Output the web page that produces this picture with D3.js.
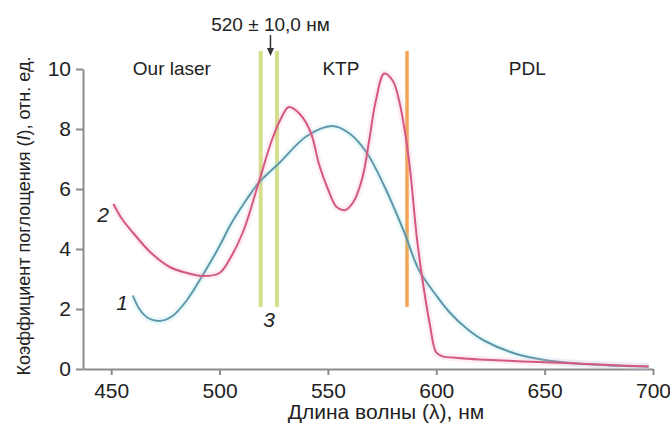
<!DOCTYPE html>
<html>
<head>
<meta charset="utf-8">
<script src="https://cdn.jsdelivr.net/npm/d3@7"></script>
<style>
  body { margin: 0; background: #fff; }
  svg text { font-family: "Liberation Sans", Arial, sans-serif; fill: #222; }
</style>
</head>
<body>
<div id="chart"></div>
<script>
// Curve 1 (blue) : wavelength, nm / absorption
const wave1 = [460, 463, 467, 472, 478, 485, 492, 500, 505, 512, 518, 528, 540, 552, 560, 568, 576, 585, 592, 600, 606, 614, 622, 637, 650, 665, 680, 698]
const abs1  = [2.45, 2.0, 1.7, 1.6, 1.75, 2.3, 3.1, 4.1, 4.8, 5.6, 6.2, 6.9, 7.75, 8.1, 7.85, 7.2, 6.1, 4.6, 3.3, 2.45, 1.9, 1.35, 0.95, 0.5, 0.3, 0.18, 0.12, 0.08]

// Curve 2 (pink)
const wave2 = [451, 455, 460, 468, 477, 485, 492, 500, 505, 511, 518, 524, 528, 532, 537, 542, 546, 550, 554, 558, 562, 566, 569, 572, 576, 580, 583, 586, 588, 591, 594, 597, 600, 603, 610, 620, 640, 660, 680, 698]
const abs2  = [5.5, 5.0, 4.55, 3.9, 3.4, 3.2, 3.1, 3.2, 3.7, 4.6, 6.2, 7.6, 8.3, 8.73, 8.5, 7.9, 6.8, 6.0, 5.4, 5.3, 5.6, 6.4, 7.6, 8.9, 9.85, 9.6, 8.9, 7.7, 6.6, 4.4, 2.8, 1.5, 0.55, 0.42, 0.37, 0.32, 0.25, 0.2, 0.13, 0.08]

// Vertical marker lines (nm)
const laserLines = [519, 526.5]
const ktpLine = [586.5]

const xTicks = [450, 500, 550, 600, 650, 700]
const yTicks = [0, 2, 4, 6, 8, 10]

const width = 670
const height = 431

const svg = d3.select('#chart')
  .append('svg')
    .attr('width', width)
    .attr('height', height)

const x = d3.scaleLinear().domain([437, 700]).range([83, 653])
const y = d3.scaleLinear().domain([0, 10]).range([369, 69])

// Marker lines
const lineTop = 10.6
const lineBottom = 2.07
svg.selectAll('.laser')
  .data(laserLines)
  .enter()
  .append('line')
    .attr('class', 'laser')
    .attr('x1', d => x(d)).attr('x2', d => x(d))
    .attr('y1', y(lineTop)).attr('y2', y(lineBottom))
    .attr('stroke', '#d6e08c')
    .attr('stroke-width', 4)

svg.selectAll('.ktp')
  .data(ktpLine)
  .enter()
  .append('line')
    .attr('class', 'ktp')
    .attr('x1', d => x(d)).attr('x2', d => x(d))
    .attr('y1', y(lineTop)).attr('y2', y(lineBottom))
    .attr('stroke', '#f2a552')
    .attr('stroke-width', 3.5)

// Axes
const xAxis = svg.append('g')
  .attr('transform', 'translate(0,' + y(0) + ')')
  .call(d3.axisBottom(x).tickValues(xTicks).tickSize(6).tickSizeOuter(0).tickPadding(8))
const yAxis = svg.append('g')
  .attr('transform', 'translate(' + x(437) + ',0)')
  .call(d3.axisLeft(y).tickValues(yTicks).tickSize(7).tickSizeOuter(0).tickPadding(5))

svg.selectAll('.domain, .tick line')
  .attr('stroke', '#8c8c8c')
  .attr('stroke-width', 2)
xAxis.selectAll('text').attr('font-size', 21).attr('fill', '#222')
yAxis.selectAll('text').attr('font-size', 21).attr('fill', '#222')

// Curves
const line = d3.line()
  .x(d => x(d[0]))
  .y(d => y(d[1]))
  .curve(d3.curveCatmullRom)

const series = [
  { pts: d3.zip(wave1, abs1), color: '#5f98a8', glow: '#8fe0f0' },
  { pts: d3.zip(wave2, abs2), color: '#d4587f', glow: '#f4a0c0' }
]

series.forEach(s => {
  svg.append('path')
    .attr('d', line(s.pts))
    .attr('fill', 'none')
    .attr('stroke', s.glow)
    .attr('stroke-opacity', 0.18)
    .attr('stroke-width', 7)
  svg.append('path')
    .attr('d', line(s.pts))
    .attr('fill', 'none')
    .attr('stroke', s.color)
    .attr('stroke-width', 2)
})

// Curve labels
const curveLabels = [
  { text: '1', w: 455, v: 1.97 },
  { text: '2', w: 446.3, v: 4.9 },
  { text: '3', w: 522.9, v: 1.4 }
]
svg.selectAll('.clabel')
  .data(curveLabels)
  .enter()
  .append('text')
    .attr('class', 'clabel')
    .attr('x', d => x(d.w))
    .attr('y', d => y(d.v))
    .attr('text-anchor', 'middle')
    .attr('font-size', 21)
    .attr('font-style', 'italic')
    .text(d => d.text)

// Region labels
const regionLabels = [
  { text: 'Our laser', w: 478 },
  { text: 'KTP', w: 556 },
  { text: 'PDL', w: 642 }
]
svg.selectAll('.rlabel')
  .data(regionLabels)
  .enter()
  .append('text')
    .attr('class', 'rlabel')
    .attr('x', d => x(d.w))
    .attr('y', 75)
    .attr('text-anchor', 'middle')
    .attr('font-size', 19)
    .text(d => d.text)

// Top annotation with arrow
svg.append('text')
  .attr('x', x(523.5))
  .attr('y', 31)
  .attr('text-anchor', 'middle')
  .attr('font-size', 19)
  .text('520 ± 10,0 нм')

svg.append('line')
  .attr('x1', x(523.5)).attr('x2', x(523.5))
  .attr('y1', 35).attr('y2', 50)
  .attr('stroke', '#333')
  .attr('stroke-width', 1.5)
svg.append('path')
  .attr('d', d3.line()([[x(523.5) - 3.5, 48], [x(523.5) + 3.5, 48], [x(523.5), 56]]))
  .attr('fill', '#333')

// Axis titles
svg.append('text')
  .attr('x', 386)
  .attr('y', 419)
  .attr('text-anchor', 'middle')
  .attr('font-size', 21)
  .text('Длина волны (λ), нм')

const yTitle = svg.append('text')
  .attr('transform', 'translate(30,216) rotate(-90)')
  .attr('text-anchor', 'middle')
  .attr('font-size', 18)
yTitle.append('tspan').text('Коэффициент поглощения (')
yTitle.append('tspan').attr('font-style', 'italic').text('I')
yTitle.append('tspan').text('), отн. ед.')
</script>
</body>
</html>
